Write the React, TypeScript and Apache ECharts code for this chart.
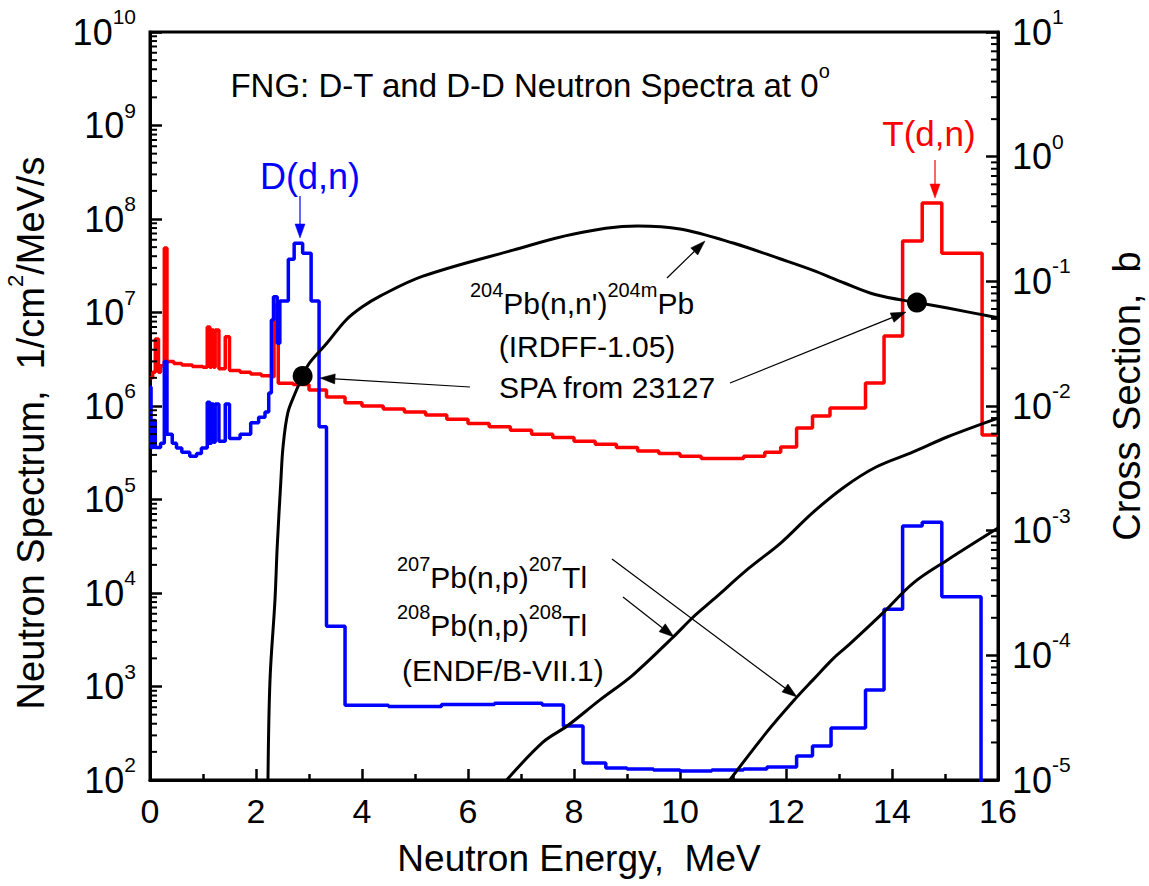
import React, { useEffect, useRef } from 'react';
import * as echarts from 'echarts';

const FONT = "'Liberation Sans', Arial, sans-serif";

// ---------------- data ----------------
// D-T neutron spectrum (red histogram): bin low edges (MeV), last entry = upper edge of last bin
const redEdges = [0, 0.05, 0.1, 0.16, 0.2, 0.27, 0.32, 0.45, 0.6, 0.8, 1.0, 1.08, 1.13, 1.16, 1.2, 1.23, 1.3, 1.42, 1.5, 1.7, 1.9, 2.1, 2.3, 2.34, 2.42, 2.7, 3.0, 3.33, 3.68, 4.0, 4.4, 4.8, 5.2, 5.6, 6.0, 6.4, 6.8, 7.2, 7.6, 8.0, 8.4, 8.8, 9.2, 9.6, 10.0, 10.4, 10.8, 11.2, 11.6, 11.9, 12.2, 12.5, 12.83, 13.5, 13.85, 14.2, 14.57, 14.94, 15.7, 16];
const redValues = [2.0e6, 2.3e6, 5.2e6, 2.3e6, 2.7e6, 4.9e7, 3.0e6, 2.85e6, 2.75e6, 2.65e6, 2.6e6, 7.0e6, 2.6e6, 6.5e6, 2.6e6, 6.5e6, 2.5e6, 5.5e6, 2.4e6, 2.3e6, 2.2e6, 2.1e6, 2.05e6, 1.2e7, 1.75e6, 1.7e6, 1.48e6, 1.25e6, 1.08e6, 1.0e6, 9.3e5, 8.6e5, 8.0e5, 7.2e5, 6.5e5, 6.0e5, 5.5e5, 5.0e5, 4.6e5, 4.2e5, 3.9e5, 3.6e5, 3.3e5, 3.1e5, 2.9e5, 2.75e5, 2.75e5, 2.9e5, 3.2e5, 3.64e5, 5.8e5, 7.8e5, 9.5e5, 1.76e6, 5.6e6, 5.8e7, 1.48e8, 4.3e7, 4.9e5];

// D-D neutron spectrum (blue histogram)
const blueEdges = [0, 0.02, 0.06, 0.1, 0.2, 0.27, 0.32, 0.42, 0.5, 0.6, 0.75, 0.88, 0.97, 1.08, 1.13, 1.16, 1.2, 1.23, 1.3, 1.42, 1.5, 1.7, 1.9, 2.05, 2.17, 2.24, 2.29, 2.33, 2.4, 2.45, 2.61, 2.72, 2.88, 3.04, 3.19, 3.33, 3.68, 4.5, 5.5, 6.5, 7.4, 7.8, 8.17, 8.6, 9.0, 9.5, 10.0, 10.6, 11.2, 11.64, 12.2, 12.5, 12.85, 13.5, 13.85, 14.2, 14.57, 14.94, 15.68, 16];
const blueValues = [1.6e6, 3.6e5, 7.0e5, 3.6e5, 4.0e5, 3.0e6, 5.0e5, 4.0e5, 3.55e5, 3.2e5, 2.9e5, 3.1e5, 3.55e5, 1.1e6, 4.0e5, 1.05e6, 4.1e5, 1.05e6, 4.2e5, 1.05e6, 4.5e5, 5.0e5, 6.6e5, 7.6e5, 8.6e5, 1.38e6, 8.3e6, 1.47e7, 4.7e6, 1.33e7, 3.7e7, 5.5e7, 4.3e7, 1.33e7, 6.0e5, 4.4e3, 630, 610, 640, 660, 634, 378, 152, 134, 131, 128, 125, 128, 131, 138, 181, 231, 360, 918, 6.7e3, 5.2e4, 5.7e4, 9.1e3, 1];

// 204Pb(n,n')204mPb cross section (IRDFF-1.05), barn
const pbnnE = [2.226, 2.264, 2.358, 2.40, 2.47, 2.51, 2.60, 2.74, 2.88, 3.0, 3.34, 3.7, 4.0, 4.34, 5.15, 6.85, 8.0, 9.2, 10.0, 11.0, 11.9, 12.5, 13.1, 13.7, 14.47, 15.05, 16.0];
const pbnnXS = [1.0e-5, 6.3e-5, 2.78e-4, 7.4e-4, 2.55e-3, 4.7e-3, 8.8e-3, 0.0127, 0.0174, 0.0219, 0.032, 0.049, 0.0622, 0.0762, 0.110, 0.178, 0.24, 0.278, 0.263, 0.203, 0.151, 0.123, 0.097, 0.078, 0.0675, 0.061, 0.051];

// 208Pb(n,p)208Tl cross section (ENDF/B-VII.1)
const pb208E = [6.73, 7.42, 7.87, 8.49, 9.11, 9.87, 10.25, 10.62, 11.3, 11.9, 12.5, 13.1, 13.7, 14.4, 15.04, 16.0];
const pb208XS = [1.0e-5, 2.02e-5, 2.71e-5, 4.39e-5, 6.95e-5, 1.40e-4, 2.03e-4, 2.78e-4, 5.0e-4, 7.96e-4, 1.39e-3, 2.24e-3, 3.24e-3, 4.28e-3, 5.64e-3, 8.0e-3];

// 207Pb(n,p)207Tl cross section (ENDF/B-VII.1)
const pb207E = [10.94, 11.64, 12.2, 12.5, 12.9, 13.2, 13.83, 14.4, 15.04, 16.0];
const pb207XS = [1.0e-5, 2.43e-5, 4.6e-5, 6.3e-5, 9.5e-5, 1.23e-4, 2.19e-4, 3.8e-4, 5.8e-4, 1.05e-3];

// SPA points from 23127
const spaE = [2.88, 14.47];
const spaXS = [0.0174, 0.0675];

// ---------------- helpers ----------------
const hist = (edges: number[], vals: number[]) =>
  edges.map((e, i) => [e, vals[Math.min(i, vals.length - 1)]]);
const pairs = (xs: number[], ys: number[]) => xs.map((x, i) => [x, ys[i]]);

const expLabel = (v: number) => `{b|10}{s|${Math.round(Math.log10(v))}}`;
const labelRich = {
  b: { fontSize: 36, lineHeight: 52, fontFamily: FONT, color: '#000' },
  s: { fontSize: 21, lineHeight: 21, verticalAlign: 'top', fontFamily: FONT, color: '#000' },
};

function arrow(x1: number, y1: number, x2: number, y2: number, color: string, lw = 1.2, hl = 15, hw = 5) {
  const dx = x2 - x1, dy = y2 - y1;
  const len = Math.hypot(dx, dy);
  const ux = dx / len, uy = dy / len;
  const bx = x2 - ux * hl, by = y2 - uy * hl;
  return [
    { type: 'line', shape: { x1, y1, x2: bx, y2: by }, style: { stroke: color, lineWidth: lw }, z: 20 },
    {
      type: 'polygon',
      shape: { points: [[x2, y2], [bx - uy * hw, by + ux * hw], [bx + uy * hw, by - ux * hw]] },
      style: { fill: color, stroke: color, lineWidth: 0.5 },
      z: 20,
    },
  ];
}

function richText(x: number, y: number, text: string, size: number, color: string, align: string, supSize: number, rot = 0) {
  return {
    type: 'text',
    x, y, rotation: rot, z: 30,
    style: {
      text,
      fill: color,
      align,
      verticalAlign: 'middle',
      font: `${size}px ${FONT}`,
      rich: {
        m: { fontSize: size, lineHeight: size + 16, fontFamily: FONT, fill: color, color },
        s: { fontSize: supSize, lineHeight: supSize, verticalAlign: 'top', fontFamily: FONT, fill: color, color },
      },
    },
  };
}

export default function App() {
  const ref = useRef<HTMLDivElement>(null);
  useEffect(() => {
    document.body.style.margin = '0';
    if (!ref.current) return;
    const chart = echarts.init(ref.current, undefined, { renderer: 'svg' });
    const axisLine = { show: true, onZero: false, lineStyle: { color: '#000', width: 3 } };
    const curveStyle = { color: '#000', width: 3 };
    const option: any = {
      animation: false,
      backgroundColor: '#fff',
      grid: { left: 150, top: 32, width: 848, height: 748, show: true, borderColor: '#000', borderWidth: 3, backgroundColor: 'transparent' },
      xAxis: {
        type: 'value', min: 0, max: 16, interval: 2,
        axisLine,
        axisTick: { inside: true, length: 11, lineStyle: { color: '#000', width: 2.5 } },
        minorTick: { show: true, splitNumber: 2, length: 6, lineStyle: { color: '#000', width: 2.5 } },
        splitLine: { show: false }, minorSplitLine: { show: false },
        axisLabel: { fontSize: 34, fontFamily: FONT, color: '#000', margin: 14 },
      },
      yAxis: [
        {
          type: 'log', logBase: 10, min: 1e2, max: 1e10, splitNumber: 8, position: 'left',
          axisLine,
          axisTick: { inside: true, length: 12, lineStyle: { color: '#000', width: 2.5 } },
          splitLine: { show: false },
          axisLabel: { formatter: expLabel, rich: labelRich, margin: 14 },
        },
        {
          type: 'log', logBase: 10, min: 1e-5, max: 10, splitNumber: 6, position: 'right',
          axisLine,
          axisTick: { inside: true, length: 12, lineStyle: { color: '#000', width: 2.5 } },
          splitLine: { show: false },
          axisLabel: { formatter: expLabel, rich: labelRich, margin: 14 },
        },
      ],
      series: [
        { type: 'line', name: 'D-T', yAxisIndex: 0, step: 'end', data: hist(redEdges, redValues), symbol: 'none', lineStyle: { color: '#ff0000', width: 3.5 }, z: 2 },
        { type: 'line', name: 'D-D', yAxisIndex: 0, step: 'end', data: hist(blueEdges, blueValues), symbol: 'none', lineStyle: { color: '#0000ff', width: 3.5 }, z: 3 },
        { type: 'line', name: '204Pb', yAxisIndex: 1, data: pairs(pbnnE, pbnnXS), smooth: 0.35, symbol: 'none', lineStyle: curveStyle, z: 4 },
        { type: 'line', name: '208Pb', yAxisIndex: 1, data: pairs(pb208E, pb208XS), smooth: 0.35, symbol: 'none', lineStyle: curveStyle, z: 4 },
        { type: 'line', name: '207Pb', yAxisIndex: 1, data: pairs(pb207E, pb207XS), smooth: 0.35, symbol: 'none', lineStyle: curveStyle, z: 4 },
        { type: 'scatter', name: 'SPA', yAxisIndex: 1, data: pairs(spaE, spaXS), symbolSize: 20, itemStyle: { color: '#000', opacity: 1 }, z: 5 },
      ],
    };
    chart.setOption(option);

    const px = (e: number) => chart.convertToPixel({ xAxisIndex: 0 } as any, e) as unknown as number;
    const pyL = (v: number) => chart.convertToPixel({ yAxisIndex: 0 } as any, v) as unknown as number;
    const pyR = (v: number) => chart.convertToPixel({ yAxisIndex: 1 } as any, v) as unknown as number;
    const x0 = px(0), x16 = px(16);
    const els: any[] = [];
    for (let e = 2; e < 10; e++) {
      for (let k = 2; k <= 9; k++) {
        const y = pyL(k * Math.pow(10, e));
        els.push({ type: 'line', shape: { x1: x0, y1: y, x2: x0 + 7, y2: y }, style: { stroke: '#000', lineWidth: 2 }, z: 10 });
      }
    }
    for (let e = -5; e < 1; e++) {
      for (let k = 2; k <= 9; k++) {
        const y = pyR(k * Math.pow(10, e));
        els.push({ type: 'line', shape: { x1: x16 - 7, y1: y, x2: x16, y2: y }, style: { stroke: '#000', lineWidth: 2 }, z: 10 });
      }
    }
    // axis titles
    els.push(richText(31, 433, '{m|Neutron Spectrum,  1/cm}{s|2}{m|/MeV/s}', 38, '#000', 'center', 22, Math.PI / 2));
    els.push(richText(1127, 396, '{m|Cross Section,  b}', 38, '#000', 'center', 22, Math.PI / 2));
    els.push(richText(579, 858, '{m|Neutron Energy,  MeV}', 37, '#000', 'center', 22));
    // title & annotations
    els.push(richText(530, 85, '{m|FNG: D-T and D-D Neutron Spectra at 0}{s|o}', 33, '#000', 'center', 20));
    els.push(richText(310, 176, '{m|D(d,n)}', 36, '#0000ff', 'center', 20));
    els.push(richText(929, 133, '{m|T(d,n)}', 35, '#ff0000', 'center', 20));
    els.push(richText(582, 303, "{s|204}{m|Pb(n,n')}{s|204m}{m|Pb}", 30, '#000', 'center', 20));
    els.push(richText(587, 346, '{m|(IRDFF-1.05)}', 30, '#000', 'center', 20));
    els.push(richText(607, 387, '{m|SPA from 23127}', 30, '#000', 'center', 20));
    els.push(richText(397, 577, '{s|207}{m|Pb(n,p)}{s|207}{m|Tl}', 30, '#000', 'left', 20));
    els.push(richText(397, 625, '{s|208}{m|Pb(n,p)}{s|208}{m|Tl}', 30, '#000', 'left', 20));
    els.push(richText(402, 670, '{m|(ENDF/B-VII.1)}', 30, '#000', 'left', 20));
    // arrows
    els.push(...arrow(300, 196, 300, 238, '#0000ff', 1.2, 14, 5));
    els.push(...arrow(935, 160, 935, 198, '#ff0000', 1.2, 14, 5));
    els.push(...arrow(667, 278, 705, 241, '#000', 1.2, 15, 5));
    els.push(...arrow(470, 387, 320, 378, '#000', 1.2, 15, 5));
    els.push(...arrow(730, 383, 906, 312, '#000', 1.2, 15, 5));
    els.push(...arrow(612, 559, 797, 697, '#000', 1.2, 15, 5));
    els.push(...arrow(623, 597, 674, 637, '#000', 1.2, 15, 5));
    chart.setOption({ graphic: { elements: els } });
    return () => chart.dispose();
  }, []);
  return <div ref={ref} style={{ width: 1149, height: 886 }} />;
}
